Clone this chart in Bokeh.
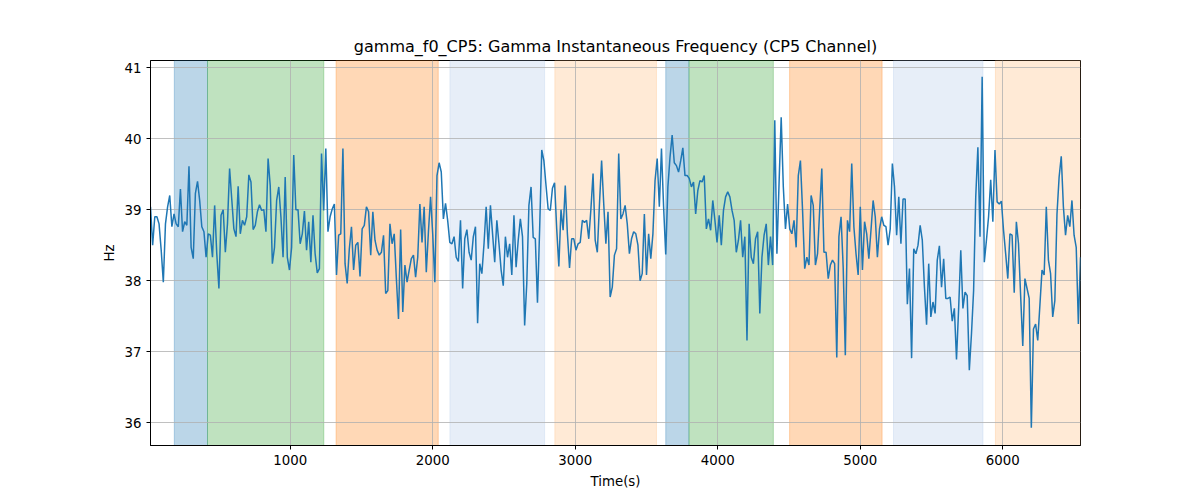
import numpy as np
from bokeh.plotting import figure
from bokeh.models import BoxAnnotation, Range1d, FixedTicker
from bokeh.embed import file_html
from bokeh.resources import INLINE

# ---- data ----
t_start = 20.0
t_step = 15.0
freq_hz = [
    39.04, 38.5, 38.9, 38.9, 38.8, 38.43, 37.98, 38.8, 39.04, 39.2, 38.76, 38.94, 38.8, 38.76, 39.29,
    38.69, 38.83, 38.78, 39.61, 38.47, 38.31, 39.23, 39.4, 39.13, 38.76, 38.69, 38.33, 38.66, 38.64,
    38.33, 39.06, 38.38, 37.89, 38.92, 39.0, 38.4, 38.8, 39.58, 39.15, 38.73, 38.62, 39.33, 38.66,
    38.85, 38.78, 38.9, 39.49, 39.39, 38.72, 38.78, 38.97, 39.07, 38.99, 39.0, 38.69,
    39.72, 39.34, 38.24, 38.47, 39.13, 39.32, 38.9, 38.33, 39.46, 38.33, 38.15, 38.47, 39.77, 39.0,
    39.0, 38.52, 38.66, 38.98, 38.43, 38.83, 38.26, 38.92, 38.38, 38.11, 38.17, 39.79, 38.99, 39.86,
    38.69, 38.9, 39.01, 39.08, 38.08, 38.64, 38.66, 39.86, 38.24, 37.96, 38.45, 38.76, 38.15, 38.5,
    38.54, 38.06, 38.73, 38.78, 39.04, 38.97, 38.36, 38.97, 38.57, 38.43, 38.36,
    38.40, 38.64, 37.82, 37.86, 38.8, 38.52, 38.66, 38.03, 37.46, 38.72, 37.56, 38.22, 37.98, 38.15,
    38.31, 38.36, 38.05, 38.33, 39.08, 38.54, 39.04, 38.12, 38.69, 39.18, 38.66, 37.98, 39.48, 39.66,
    39.53, 38.87, 39.09, 38.85, 38.54, 38.52, 38.62, 38.33, 38.27, 38.85, 37.89, 38.59, 38.72, 38.4,
    38.29, 38.62, 38.76, 37.4, 38.24, 38.1, 38.52, 39.04, 38.45, 39.06, 38.66, 38.26,
    38.85, 38.52, 38.15, 37.93, 38.62, 38.33, 38.52, 38.08, 38.92, 38.19, 38.57, 38.87, 38.62, 37.37,
    37.96, 39.06, 39.32, 38.61, 38.59, 37.69, 38.71, 39.84, 39.69, 39.34, 39.01, 38.99, 39.3, 39.38,
    38.73, 38.2, 39.0, 38.71, 39.34, 38.66, 38.18, 38.59, 38.59, 38.43, 38.52, 38.54, 38.85, 38.82,
    38.85, 38.59, 39.01, 39.51, 38.57, 38.4, 39.08, 39.69, 39.08, 38.52, 38.97,
    37.77, 37.91, 38.36, 38.45, 39.79, 38.87, 38.94, 39.06, 38.8, 38.38, 38.59, 38.69, 38.66, 38.5,
    38.0, 38.1, 38.94, 38.08, 38.66, 38.31, 38.66, 39.41, 39.72, 39.04, 39.86, 39.04, 38.37, 39.32,
    39.74, 40.05, 39.66, 39.62, 39.53, 39.69, 39.87, 39.48, 39.48, 39.44, 39.32, 39.39, 38.94, 39.27,
    39.41, 39.39, 39.48, 38.73, 38.87, 38.71, 39.13, 38.85, 38.54, 38.92, 38.5, 38.99, 39.18, 39.25,
    39.18, 38.99, 38.85, 38.4, 38.57, 38.85, 38.33, 38.62, 37.16, 38.8, 38.33, 38.24, 38.59, 38.69,
    37.54, 38.33, 38.64, 38.8, 38.22, 38.62, 38.22, 40.26, 38.38, 39.37, 40.3, 39.32, 38.73, 39.08,
    38.73, 38.66, 38.85, 38.47, 39.48, 39.69, 38.99, 38.17, 38.33, 38.22, 39.2, 39.06, 38.22, 38.38,
    38.99, 39.58, 38.4, 38.4, 38.03, 38.22, 38.29, 38.24, 36.92, 38.62, 38.9, 38.19, 36.95,
    38.85, 38.69, 39.65, 38.76, 38.38, 38.08, 39.04, 38.15, 38.83, 38.66, 38.31, 38.71, 39.13, 38.9,
    38.33, 38.73, 38.9, 38.78, 38.76, 38.5, 38.73, 39.65, 39.32, 38.64, 39.18, 38.52, 39.15, 39.15,
    37.67, 38.17, 36.91, 38.45, 38.38, 38.5, 38.78, 38.57, 37.91, 37.38, 38.24, 37.49, 37.7, 37.54,
    38.29, 38.49, 37.91, 38.31, 37.75, 37.75, 37.77, 37.43, 37.61, 36.89, 37.61,
    38.43, 37.61, 37.84, 37.79, 36.74, 37.25, 37.86, 39.18, 39.88, 38.62, 40.87, 38.26, 38.57, 38.9,
    39.42, 38.83, 39.84, 39.11, 39.08, 39.12, 38.71, 38.38, 38.03, 38.66, 38.64, 37.83, 38.83, 38.52,
    37.79, 37.08, 38.03, 37.89, 37.75, 35.93, 37.32, 37.39, 37.16, 37.65, 38.15, 38.08, 39.04, 38.29,
    38.1, 37.49, 37.72, 38.94, 39.46, 39.75, 39.04, 38.64, 38.92, 38.76, 39.13, 38.64, 38.47, 37.39,
    38.33,
]
span_starts = [187, 420, 1322, 2121, 2857, 3635, 3798, 4504, 5233, 5948]
span_ends = [420, 1236, 2039, 2785, 3570, 3798, 4390, 5153, 5861, 6600]
span_colors = ["#1f77b4", "#2ca02c", "#ff7f0e", "#aec7e8", "#ffbb78",
               "#1f77b4", "#2ca02c", "#ff7f0e", "#aec7e8", "#ffbb78"]
x_ticks = [1000, 2000, 3000, 4000, 5000, 6000]
y_ticks = [36, 37, 38, 39, 40, 41]

time_s = t_start + t_step * np.arange(len(freq_hz))

FONT = "DejaVu Sans"

p = figure(width=1184, height=492, output_backend="svg", toolbar_location=None,
           x_range=Range1d(time_s[0], time_s[-1]), y_range=Range1d(35.68, 41.1),
           min_border_left=150, min_border_right=104, min_border_top=60, min_border_bottom=47,
           title="gamma_f0_CP5: Gamma Instantaneous Frequency (CP5 Channel)")

p.title.align = "center"
p.title.text_font = FONT
p.title.text_font_size = "16px"
p.title.text_font_style = "normal"
p.title.text_color = "black"

for s, e, c in zip(span_starts, span_ends, span_colors):
    p.add_layout(BoxAnnotation(left=s, right=e, fill_color=c, fill_alpha=0.3,
                               line_color=c, line_alpha=0.3, line_width=1, level="image"))

p.line(time_s, freq_hz, line_color="#1f77b4", line_width=1.5)

p.xaxis.ticker = FixedTicker(ticks=x_ticks)
p.yaxis.ticker = FixedTicker(ticks=y_ticks)
p.xaxis.axis_label = "Time(s)"
p.yaxis.axis_label = "Hz"
for ax in (p.xaxis, p.yaxis):
    ax.axis_label_text_font = FONT
    ax.axis_label_text_font_size = "13.33px"
    ax.axis_label_text_font_style = "normal"
    ax.axis_label_text_color = "black"
    ax.major_label_text_font = FONT
    ax.major_label_text_font_size = "13.33px"
    ax.major_label_text_color = "black"
    ax.minor_tick_line_color = None
    ax.major_tick_in = 0
    ax.major_tick_out = 4
    ax.major_tick_line_color = "black"
    ax.axis_line_color = "black"
p.xaxis.axis_label_standoff = 6
p.yaxis.axis_label_standoff = 5

p.grid.grid_line_color = "#b0b0b0"
p.grid.grid_line_width = 0.8
p.outline_line_color = "black"
p.outline_line_alpha = 1
p.outline_line_width = 1
p.background_fill_color = "white"
p.border_fill_color = "white"

open("out.html", "w").write(file_html(p, INLINE))
